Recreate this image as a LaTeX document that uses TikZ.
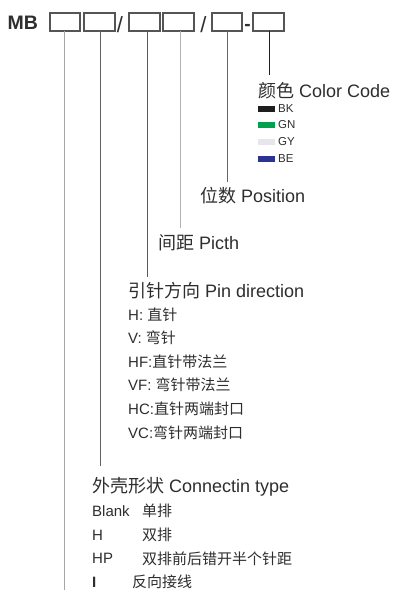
\documentclass[tikz,border=0pt]{standalone}
\usepackage{fontspec}
\setmainfont{Liberation Sans}
\newfontfamily\cjk{Noto Sans CJK SC}
\definecolor{txt}{HTML}{2E2E2E}
\definecolor{boxc}{HTML}{555555}
\definecolor{cBK}{HTML}{1E1E1E}
\definecolor{cGN}{HTML}{00A04C}
\definecolor{cGY}{HTML}{E6E6EC}
\definecolor{cBE}{HTML}{2D3392}
\begin{document}
\begin{tikzpicture}[x=1pt,y=-1pt,
  codebox/.style={draw=boxc,line width=1.2pt},
  lead/.style={line width=1pt},
  title/.style={anchor=west,inner sep=0pt,text=txt,font=\fontsize{18}{18}\selectfont},
  sub/.style={anchor=west,inner sep=0pt,text=txt,font=\fontsize{15}{15}\selectfont},
  small/.style={anchor=west,inner sep=0pt,text=txt,font=\fontsize{11.5}{11.5}\selectfont},
  swatch/.style={minimum width=17pt,minimum height=6pt,inner sep=0pt,anchor=west}]
\useasboundingbox[fill=white] (0,0) rectangle (396,590);
% header
\node[anchor=base west,inner sep=0pt,text=txt,font=\fontsize{19.5}{19.5}\selectfont\bfseries] (mb) at (7.5,29) {MB};
\draw[codebox] (50,13) rectangle (80,31);
\draw[codebox] (84,13) rectangle (115,31);
\draw[codebox] (129,13) rectangle (160,31);
\draw[codebox] (163,13) rectangle (194,31);
\draw[codebox] (212,13) rectangle (242,31);
\draw[codebox] (253,13) rectangle (284,31);
\node[anchor=base,inner sep=0pt,text=txt,font=\fontsize{22}{22}\selectfont] (s1) at (120,32) {/};
\node[anchor=base,inner sep=0pt,text=txt,font=\fontsize{19}{19}\selectfont\bfseries] (d1) at (247.5,30.5) {-};
\node[anchor=base,inner sep=0pt,text=txt,font=\fontsize{22}{22}\selectfont] (s2) at (203.5,32) {/};
% leads
\coordinate (t1) at (64,31); \coordinate (e1) at (64,590);
\coordinate (t2) at (100,31); \coordinate (e2) at (100,466);
\coordinate (t3) at (147,31); \coordinate (e3) at (147,277);
\coordinate (t4) at (180,31); \coordinate (e4) at (180,228);
\coordinate (t5) at (227.5,31); \coordinate (e5) at (227.5,182);
\coordinate (t6) at (269,31); \coordinate (e6) at (269,75);
\draw[lead,draw=black!35] (t1) -- (e1);
\draw[lead,draw=black!62] (t2) -- (e2);
\draw[lead,draw=black!65] (t3) -- (e3);
\draw[lead,draw=black!30] (t4) -- (e4);
\draw[lead,draw=black!60] (t5) -- (e5);
\draw[lead,draw=black!88] (t6) -- (e6);
% color code
\node[title] (cc) at (258,91) {{\cjk 颜色} Color Code};
\node[swatch,fill=cBK] (sw1) at (258,108.5) {};
\node[swatch,fill=cGN] (sw2) at (258,125) {};
\node[swatch,fill=cGY] (sw3) at (258,142) {};
\node[swatch,fill=cBE] (sw4) at (258,158.5) {};
\node[small] (k1) at (278,108.5) {BK};
\node[small] (k2) at (278,125) {GN};
\node[small] (k3) at (278,142) {GY};
\node[small] (k4) at (278,158.5) {BE};
% position
\node[title] (pos) at (200,195.5) {{\cjk 位数} Position};
% pitch
\node[title] (pit) at (158,243) {{\cjk 间距} Picth};
% pin direction
\node[title] (pin) at (128,291) {{\cjk 引针方向} Pin direction};
\node[sub] (p1) at (128,314.5) {H: {\cjk 直针}};
\node[sub] (p2) at (128,338) {V: {\cjk 弯针}};
\node[sub] (p3) at (128,361.5) {HF:{\cjk 直针带法兰}};
\node[sub] (p4) at (128,385) {VF: {\cjk 弯针带法兰}};
\node[sub] (p5) at (128,408.5) {HC:{\cjk 直针两端封口}};
\node[sub] (p6) at (128,432.5) {VC:{\cjk 弯针两端封口}};
% connection type
\node[title] (ct) at (92,486.5) {{\cjk 外壳形状} Connectin type};
\node[sub] (c1a) at (92,511) {Blank};
\node[sub] (c1b) at (142,511) {\cjk 单排};
\node[sub] (c2a) at (92,535) {H};
\node[sub] (c2b) at (142,535) {\cjk 双排};
\node[sub] (c3a) at (92,558.5) {HP};
\node[sub] (c3b) at (142,558.5) {\cjk 双排前后错开半个针距};
\node[sub] (c4a) at (92,582) {\bfseries I};
\node[sub] (c4b) at (132,582) {\cjk 反向接线};
\end{tikzpicture}
\end{document}
